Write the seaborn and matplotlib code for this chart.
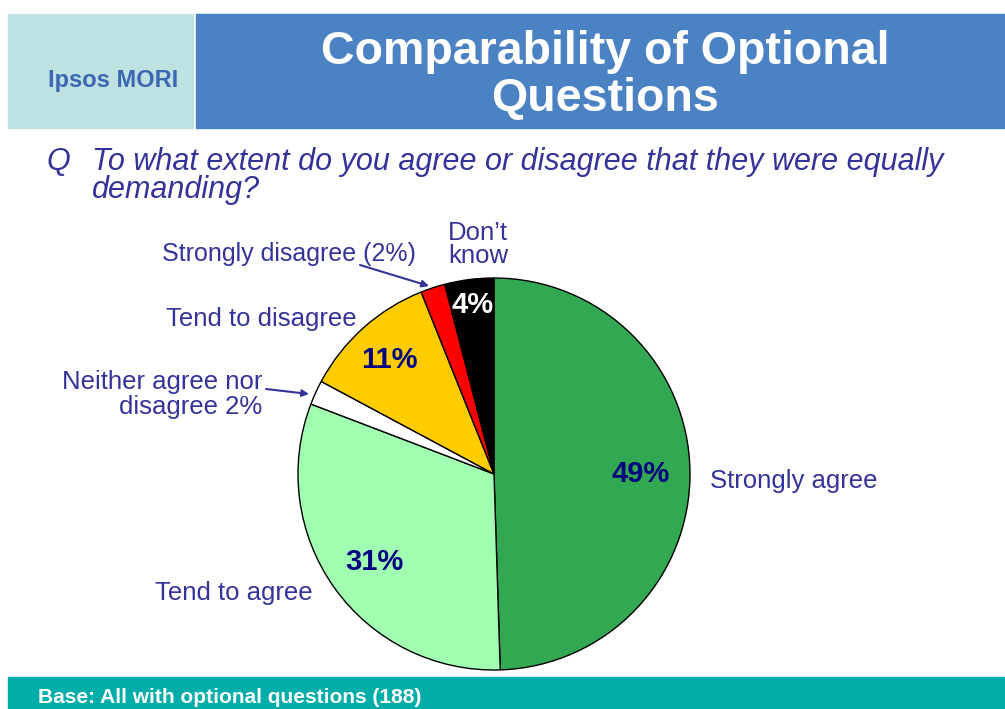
import numpy as np
import matplotlib
matplotlib.use("Agg")
import matplotlib.pyplot as plt
from matplotlib.patches import Rectangle
import seaborn as sns

sns.set_theme(style="white")
plt.rcParams["font.family"] = ["Liberation Sans", "DejaVu Sans"]

# Survey responses, clockwise from 12 o'clock
categories = ["Strongly agree", "Tend to agree", "Neither agree nor disagree",
              "Tend to disagree", "Strongly disagree", "Don't know"]
values = [49, 31, 2, 11, 2, 4]
slice_colors = ["#33A852", "#A0FFB0", "#FFFFFF", "#FFCC00", "#FF0000", "#000000"]
inside_labels = ["49%", "31%", "", "11%", "", "4%"]
inside_label_colors = ["#000080", "#000080", "#000080", "#000080", "#000080", "#FFFFFF"]
inside_label_radius = [0.75, 0.75, 0.75, 0.80, 0.75, 0.88]

title_lines = ["Comparability of Optional", "Questions"]
question_lines = ["To what extent do you agree or disagree that they were equally",
                  "demanding?"]
base_text = "Base: All with optional questions (188)"

W, H = 1005, 709
fig = plt.figure(figsize=(W / 100, H / 100), dpi=100)
ax = fig.add_axes([0, 0, 1, 1])

def Y(y):
    return H - y

# Header bands
ax.add_patch(Rectangle((8, Y(128)), 185, 114, color="#BEE1E1", zorder=1))
ax.add_patch(Rectangle((196, Y(128)), W - 196, 114, color="#4A82C4", zorder=1))
ax.text(113, Y(87), "Ipsos MORI", ha="center", va="baseline", fontsize=17,
        fontweight="bold", color="#3B67B3", zorder=2)
for yb, line in zip([64, 111], title_lines):
    ax.text(605, Y(yb), line, ha="center", va="baseline", fontsize=33.5,
            fontweight="bold", color="white", zorder=2)

# Question
qcol = "#333399"
ax.text(46, Y(170), "Q", ha="left", va="baseline", fontsize=22, style="italic", color=qcol)
for yb, line in zip([170, 198], question_lines):
    ax.text(92, Y(yb), line, ha="left", va="baseline", fontsize=22,
            style="italic", color=qcol)

# Pie
cx, cy, R = 494, Y(474), 196
wedges, _ = ax.pie(values, colors=slice_colors, startangle=90, counterclock=False,
                   center=(cx, cy), radius=R, frame=True,
                   wedgeprops=dict(edgecolor="black", linewidth=1.0))
cap_half = 10.5
for w, lab, col, rr in zip(wedges, inside_labels, inside_label_colors, inside_label_radius):
    if not lab:
        continue
    mid = np.deg2rad((w.theta1 + w.theta2) / 2)
    ax.text(cx + rr * R * np.cos(mid), cy + rr * R * np.sin(mid) - cap_half, lab,
            ha="center", va="baseline", fontsize=21, fontweight="bold", color=col, zorder=5)

# Outside labels
lcol = "#333399"
fs = 18.5
ax.text(710, Y(488), categories[0], ha="left", va="baseline", fontsize=fs, color=lcol)
ax.text(155, Y(600), categories[1], ha="left", va="baseline", fontsize=fs, color=lcol)
ax.text(166, Y(326), categories[3], ha="left", va="baseline", fontsize=fs, color=lcol)
ax.text(162, Y(261), "Strongly disagree (2%)", ha="left", va="baseline", fontsize=18, color=lcol)
ax.text(478, Y(240), "Don\u2019t", ha="center", va="baseline", fontsize=fs, color=lcol)
ax.text(478, Y(263), "know", ha="center", va="baseline", fontsize=fs, color=lcol)
ax.text(262, Y(389), "Neither agree nor", ha="right", va="baseline", fontsize=fs, color=lcol)
ax.text(262, Y(414), "disagree 2%", ha="right", va="baseline", fontsize=fs, color=lcol)

arrow_kw = dict(arrowstyle="-|>", color=lcol, lw=1.5, mutation_scale=10, shrinkA=0, shrinkB=0)
ax.annotate("", xy=(429, Y(286)), xytext=(360, Y(265)), arrowprops=arrow_kw)
ax.annotate("", xy=(309, Y(394)), xytext=(266, Y(389)), arrowprops=arrow_kw)

# Footer band
ax.add_patch(Rectangle((8, 0), W - 8, H - 677, color="#00ADA8", zorder=1))
ax.text(38, Y(703), base_text, ha="left", va="baseline", fontsize=15,
        fontweight="bold", color="white", zorder=2)

ax.set_xlim(0, W)
ax.set_ylim(0, H)
ax.set_aspect("equal")
ax.axis("off")

fig.savefig("out.png", dpi=100, facecolor="white")
